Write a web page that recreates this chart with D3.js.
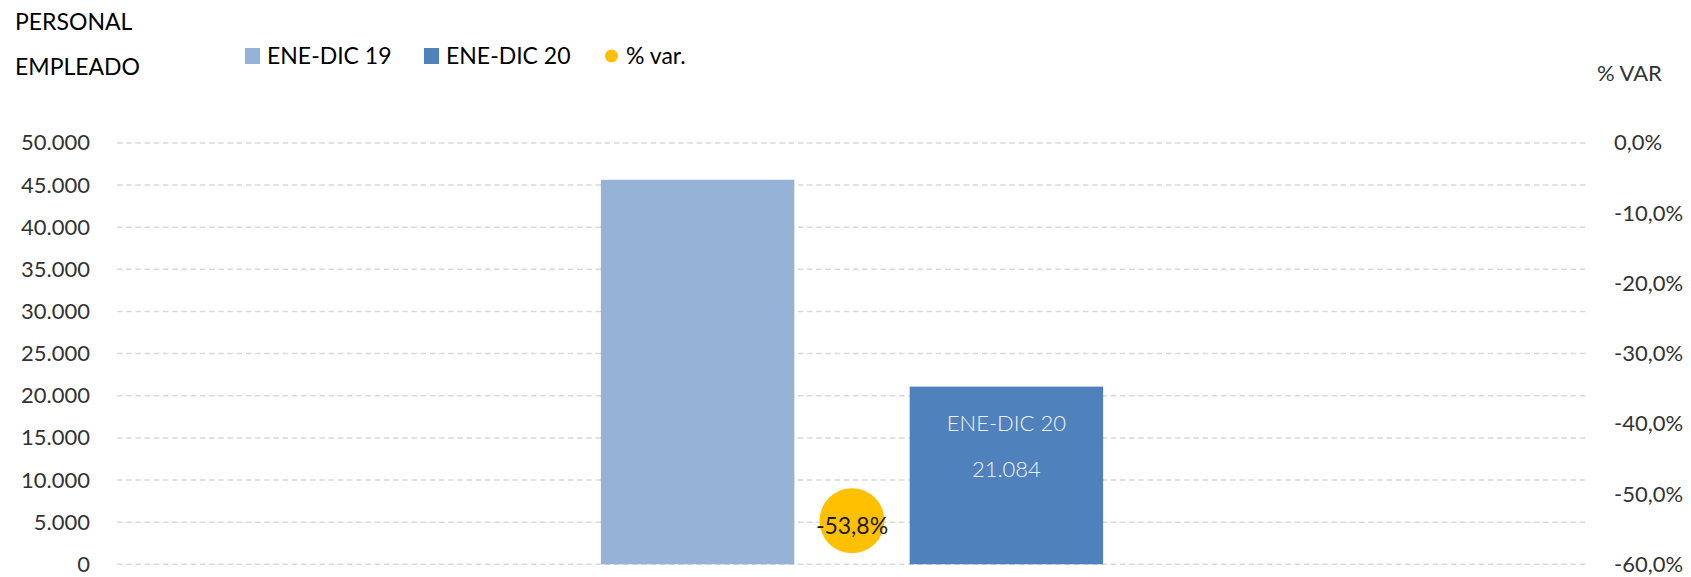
<!DOCTYPE html>
<html>
<head>
<meta charset="utf-8">
<script src="https://cdn.jsdelivr.net/npm/d3@7/dist/d3.min.js"></script>
<style>
  html, body { margin: 0; padding: 0; background: #ffffff; }
  svg { display: block; font-family: Lato, "Noto Sans", sans-serif; }
</style>
</head>
<body>
<svg id="chart" width="1691" height="577"></svg>
<script>
// ---- data ----
const categories = ["PERSONAL EMPLEADO"];
const seriesNames = ["ENE-DIC 19", "ENE-DIC 20"];
const personalValues = [45620, 21084];
const pctVar = [-0.538];
const leftTicks = [0, 5000, 10000, 15000, 20000, 25000, 30000, 35000, 40000, 45000, 50000];
const rightTicks = [-0.6, -0.5, -0.4, -0.3, -0.2, -0.1, 0];
const seriesColors = ["#95B3D7", "#4F81BD"];
const dotColor = "#FFC000";

const locale = d3.formatLocale({ decimal: ",", thousands: ".", grouping: [3], currency: ["", " €"], minus: "-" });
const fmtNum = locale.format(",.0f");
const fmtPct = locale.format(".1%");

const svg = d3.select("#chart");
const plot = { left: 117, right: 1587, top: 142.9, bottom: 564.3 };

const x0 = d3.scaleBand().domain(categories).range([plot.left, plot.right]).padding(0);
const x1 = d3.scaleBand().domain(seriesNames).range([0, x0.bandwidth()])
  .paddingInner(0.3735).paddingOuter(1.567);
const y = d3.scaleLinear().domain([0, 50000]).range([plot.bottom, plot.top]);
const yR = d3.scaleLinear().domain([-0.6, 0]).range([plot.bottom, plot.top]);

// gridlines
svg.append("g").selectAll("line").data(leftTicks).join("line")
  .attr("x1", plot.left).attr("x2", plot.right)
  .attr("y1", d => y(d)).attr("y2", d => y(d))
  .attr("stroke", "#D9D9D9").attr("stroke-width", 1.5)
  .attr("stroke-dasharray", "5.5,3.7");

// left axis
const gl = svg.append("g").attr("transform", `translate(${plot.left},0)`)
  .call(d3.axisLeft(y).tickValues(leftTicks).tickFormat(fmtNum).tickSize(0).tickPadding(27));
gl.select(".domain").remove();
gl.selectAll("text").attr("font-size", 22).attr("fill", "#333333").attr("font-family", "Lato, 'Noto Sans', sans-serif");

// right axis
const gr = svg.append("g").attr("transform", `translate(${plot.right},0)`)
  .call(d3.axisRight(yR).tickValues(rightTicks).tickFormat(fmtPct).tickSize(0).tickPadding(27));
gr.select(".domain").remove();
gr.selectAll("text").attr("font-size", 22).attr("fill", "#333333").attr("font-family", "Lato, 'Noto Sans', sans-serif");

// bars
const barData = seriesNames.map((s, i) => ({ cat: categories[0], series: s, value: personalValues[i], color: seriesColors[i] }));
svg.append("g").selectAll("rect").data(barData).join("rect")
  .attr("x", d => x0(d.cat) + x1(d.series))
  .attr("width", x1.bandwidth())
  .attr("y", d => y(d.value))
  .attr("height", d => y(0) - y(d.value))
  .attr("fill", d => d.color);

// label inside second bar
const lb = barData[1];
const lbx = x0(lb.cat) + x1(lb.series) + x1.bandwidth() / 2;
const lby = y(lb.value);
svg.append("text").attr("x", lbx).attr("y", lby + 37).attr("dy", "0.35em")
  .attr("text-anchor", "middle").attr("font-size", 22).attr("font-weight", 300)
  .attr("fill", "#F2F2F2").text(lb.series);
svg.append("text").attr("x", lbx).attr("y", lby + 83).attr("dy", "0.35em")
  .attr("text-anchor", "middle").attr("font-size", 22).attr("font-weight", 300)
  .attr("fill", "#F2F2F2").text(fmtNum(lb.value));

// % var dot
const dotData = categories.map((c, i) => ({ cat: c, v: pctVar[i] }));
const dg = svg.append("g");
dg.selectAll("circle").data(dotData).join("circle")
  .attr("cx", d => x0(d.cat) + x0.bandwidth() / 2)
  .attr("cy", d => yR(d.v))
  .attr("r", 32.5).attr("fill", dotColor);
dg.selectAll("text").data(dotData).join("text")
  .attr("x", d => x0(d.cat) + x0.bandwidth() / 2)
  .attr("y", d => yR(d.v) + 5)
  .attr("dy", "0.35em").attr("text-anchor", "middle")
  .attr("font-size", 23).attr("fill", "#1a1a1a")
  .text(d => fmtPct(d.v));

// titles
svg.append("text").attr("x", 15).attr("y", 22).attr("dy", "0.35em")
  .attr("font-size", 23).attr("fill", "#000").text("PERSONAL");
svg.append("text").attr("x", 15).attr("y", 67).attr("dy", "0.35em")
  .attr("font-size", 23).attr("fill", "#000").text("EMPLEADO");
svg.append("text").attr("x", 1597).attr("y", 73).attr("dy", "0.35em")
  .attr("font-size", 22).attr("fill", "#333333").text("% VAR");

// legend
const lgY = 56;
const legend = svg.append("g");
const legendItems = [
  { label: seriesNames[0], type: "rect", color: seriesColors[0], x: 245 },
  { label: seriesNames[1], type: "rect", color: seriesColors[1], x: 424 },
  { label: "% var.", type: "dot", color: dotColor, x: 605 }
];
legendItems.forEach(it => {
  if (it.type === "rect") {
    legend.append("rect").attr("x", it.x).attr("y", lgY - 8).attr("width", 15).attr("height", 16).attr("fill", it.color);
    legend.append("text").attr("x", it.x + 22).attr("y", lgY).attr("dy", "0.35em")
      .attr("font-size", 23).attr("fill", "#000").text(it.label);
  } else {
    legend.append("circle").attr("cx", it.x + 6.5).attr("cy", lgY).attr("r", 6.5).attr("fill", it.color);
    legend.append("text").attr("x", it.x + 21).attr("y", lgY).attr("dy", "0.35em")
      .attr("font-size", 23).attr("fill", "#000").text(it.label);
  }
});
</script>
</body>
</html>
